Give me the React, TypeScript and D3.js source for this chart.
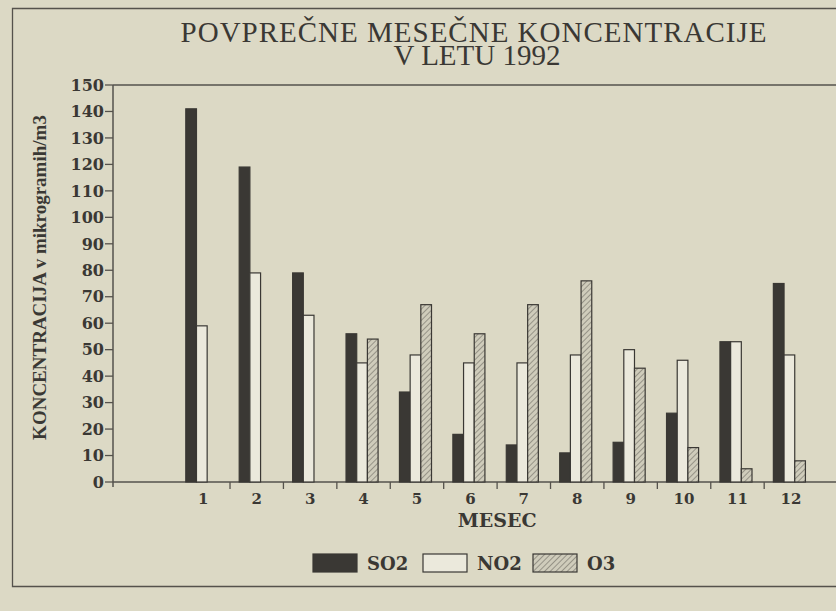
import React from "react";
import * as d3 from "d3";

const WIDTH = 836;
const HEIGHT = 611;

const MONTHS = ["1", "2", "3", "4", "5", "6", "7", "8", "9", "10", "11", "12"];
const SERIES = ["SO2", "NO2", "O3"];
const SO2 = [141, 119, 79, 56, 34, 18, 14, 11, 15, 26, 53, 75];
const NO2 = [59, 79, 63, 45, 48, 45, 45, 48, 50, 46, 53, 48];
const O3 = [null, null, null, 54, 67, 56, 67, 76, 43, 13, 5, 8];
const Y_TICKS = d3.range(0, 151, 10);

const TITLE_1 = "POVPREČNE MESEČNE KONCENTRACIJE";
const TITLE_2 = "V LETU 1992";
const Y_TITLE = "KONCENTRACIJA v mikrogramih/m3";
const X_TITLE = "MESEC";

const PAPER = "#dcd9c5";
const INK = "#3a3834";
const LINE = "#55524c";
const FILLS: Record<string, string> = {
  SO2: INK,
  NO2: "#ebe9dc",
  O3: "url(#hatch)",
};

const SERIF = "'Liberation Serif', 'Times New Roman', serif";
const WIDE_SERIF = "'DejaVu Serif', serif";

const PLOT = { left: 113, top: 85, bottom: 482, bandLeft: 176.6, right: 817.6 };

export default function App() {
  const values: Record<string, (number | null)[]> = { SO2, NO2, O3 };

  const y = d3.scaleLinear().domain([0, 150]).range([PLOT.bottom, PLOT.top]);
  const x = d3.scaleBand().domain(MONTHS).range([PLOT.bandLeft, PLOT.right]);
  const xs = d3
    .scaleBand()
    .domain(SERIES)
    .range([0, x.bandwidth()])
    .paddingOuter(1)
    .align(0.43);

  const legendX = d3.scalePoint().domain(SERIES).range([313, 533]);
  const boundaries = MONTHS.slice(1).map((m) => x(m) as number);
  const midBands = (PLOT.bandLeft + PLOT.right) / 2;

  return (
    <svg
      width={WIDTH}
      height={HEIGHT}
      style={{ position: "absolute", left: 0, top: 0 }}
    >
      <defs>
        <pattern
          id="hatch"
          width="4"
          height="4"
          patternUnits="userSpaceOnUse"
          patternTransform="rotate(45)"
        >
          <rect width="4" height="4" fill="#cfccbb" />
          <line x1="0" y1="0" x2="0" y2="4" stroke="#77746b" strokeWidth="1.3" />
        </pattern>
      </defs>
      <rect width={WIDTH} height={HEIGHT} fill={PAPER} />

      {/* frame */}
      <path
        d={`M${WIDTH + 2},8.5H12.5V586.5H${WIDTH + 2}`}
        fill="none"
        stroke={LINE}
        strokeWidth={1.3}
      />

      {/* title */}
      <g fontFamily={SERIF} fill={INK} textAnchor="middle">
        <text x={474} y={42} fontSize={29} letterSpacing={1}>
          {TITLE_1}
        </text>
        <text x={477} y={65} fontSize={29}>
          {TITLE_2}
        </text>
      </g>

      {/* plot frame lines */}
      <line x1={PLOT.left} x2={WIDTH} y1={PLOT.top} y2={PLOT.top} stroke={LINE} strokeWidth={1.5} />
      <line x1={PLOT.left} x2={WIDTH} y1={PLOT.bottom} y2={PLOT.bottom} stroke={LINE} strokeWidth={1.5} />
      <line x1={PLOT.left} x2={PLOT.left} y1={PLOT.top} y2={PLOT.bottom + 5} stroke={LINE} strokeWidth={1.5} />

      {/* y axis */}
      <g fontFamily={WIDE_SERIF} fontWeight="bold" fontSize={16} fill={INK}>
        {Y_TICKS.map((t) => (
          <g key={t} transform={`translate(0,${y(t)})`}>
            <line x1={PLOT.left - 8} x2={PLOT.left} stroke={LINE} strokeWidth={1.3} />
            <text x={PLOT.left - 9} dy="0.36em" textAnchor="end">
              {t}
            </text>
          </g>
        ))}
      </g>
      <text
        transform={`translate(46,${(PLOT.top + PLOT.bottom) / 2 - 6}) rotate(-90)`}
        textAnchor="middle"
        fontFamily={SERIF}
        fontWeight="bold"
        fontSize={19}
        fill={INK}
      >
        {Y_TITLE}
      </text>

      {/* bars */}
      {MONTHS.map((m, i) => (
        <g key={m} transform={`translate(${x(m)},0)`}>
          {SERIES.map((s) => {
            const v = values[s][i];
            if (v == null) return null;
            return (
              <rect
                key={s}
                x={xs(s)}
                y={y(v)}
                width={xs.bandwidth()}
                height={PLOT.bottom - y(v)}
                fill={FILLS[s]}
                stroke={INK}
                strokeWidth={1.2}
              />
            );
          })}
        </g>
      ))}

      {/* x axis ticks and labels */}
      {boundaries.map((b, i) => (
        <line key={i} x1={b} x2={b} y1={PLOT.bottom} y2={PLOT.bottom + 7} stroke={LINE} strokeWidth={1.3} />
      ))}
      <g fontFamily={WIDE_SERIF} fontWeight="bold" fontSize={15} fill={INK} textAnchor="middle">
        {MONTHS.map((m) => (
          <text key={m} x={(x(m) as number) + x.bandwidth() / 2} y={504}>
            {m}
          </text>
        ))}
        <text x={midBands} y={527} fontSize={19}>
          {X_TITLE}
        </text>
      </g>

      {/* legend */}
      <g fontFamily={WIDE_SERIF} fontWeight="bold" fontSize={18} fill={INK}>
        {SERIES.map((s) => (
          <g key={s} transform={`translate(${legendX(s)},554)`}>
            <rect width={44} height={18} fill={FILLS[s]} stroke={INK} strokeWidth={1.2} />
            <text x={54} y={16}>
              {s}
            </text>
          </g>
        ))}
      </g>
    </svg>
  );
}
